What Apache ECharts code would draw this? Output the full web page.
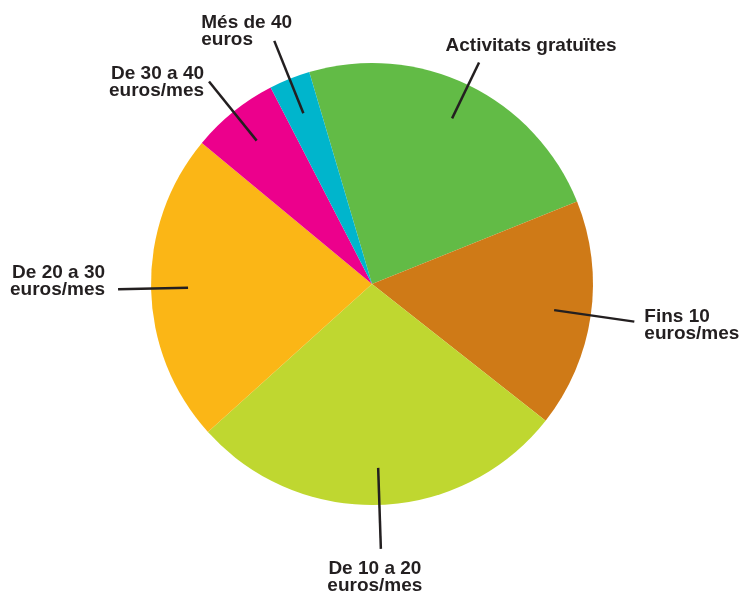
<!DOCTYPE html>
<html>
<head>
<meta charset="utf-8">
<script src="https://cdn.jsdelivr.net/npm/echarts@6/dist/echarts.min.js"></script>
<style>
  html, body { margin: 0; padding: 0; background: #fff; }
  #chart { width: 742px; height: 593px; }
</style>
</head>
<body>
<div id="chart"></div>
<script>
// dades (percentatges llegits del gràfic)
const categories = [
  'Activitats gratuïtes',
  'Fins 10\neuros/mes',
  'De 10 a 20\neuros/mes',
  'De 20 a 30\neuros/mes',
  'De 30 a 40\neuros/mes',
  'Més de 40\neuros'
];
const values = [23.5, 16.7, 27.7, 22.7, 6.4, 3.0];
const colors = ['#62bb46', '#cf7a17', '#bfd730', '#fbb616', '#ec008c', '#00b5cc'];

// on va cada etiqueta respecte al final de la línia
const labelPlace = [
  { len: 25, dx: 52, dy: -25, align: 'center' },
  { len: 44, dx: 10, dy: -13, align: 'left' },
  { len: 44, dx: -6, dy: 11, align: 'center' },
  { len: 33, dx: -13, dy: -25, align: 'right' },
  { len: 39, dx: -5, dy: -16, align: 'right' },
  { len: 41, dx: -73, dy: -27, align: 'left' }
];
const INSET = 37; // la línia comença dins del sector

const pieBase = {
  type: 'pie',
  center: [372, 284],
  radius: 221,
  startAngle: 106.5,
  avoidLabelOverlap: false,
  silent: true,
  emphasis: { disabled: true }
};

const chart = echarts.init(document.getElementById('chart'));

chart.setOption({
  animation: false,
  series: [
    // sectors
    Object.assign({}, pieBase, {
      z: 2,
      itemStyle: { borderWidth: 0 },
      label: { show: false },
      labelLine: { show: false },
      data: categories.map((name, i) => ({
        name: name,
        value: values[i],
        itemStyle: { color: colors[i] }
      }))
    }),
    // etiquetes i línies, per sobre dels sectors
    Object.assign({}, pieBase, {
      z: 5,
      itemStyle: { color: 'rgba(0,0,0,0)', borderWidth: 0 },
      data: categories.map((name, i) => ({
        name: name,
        value: values[i],
        labelLine: { length: labelPlace[i].len }
      })),
      label: {
        show: true,
        position: 'outside',
        formatter: '{b}',
        color: '#231f20',
        fontFamily: 'Liberation Sans',
        fontWeight: 'bold',
        fontSize: 19,
        lineHeight: 17
      },
      labelLine: {
        show: true,
        length: 40,
        length2: 0,
        lineStyle: { color: '#231f20', width: 2.5 }
      },
      labelLayout: function (p) {
        const pts = p.labelLinePoints;
        if (!pts) return {};
        const pl = labelPlace[p.dataIndex];
        const a = pts[0], b = pts[1];
        const d = Math.hypot(b[0] - a[0], b[1] - a[1]) || 1;
        const ux = (b[0] - a[0]) / d, uy = (b[1] - a[1]) / d;
        const start = [a[0] - ux * INSET, a[1] - uy * INSET];
        return {
          x: b[0] + pl.dx,
          y: b[1] + pl.dy,
          align: pl.align,
          verticalAlign: 'top',
          labelLinePoints: [start, b]
        };
      }
    })
  ]
});
</script>
</body>
</html>
